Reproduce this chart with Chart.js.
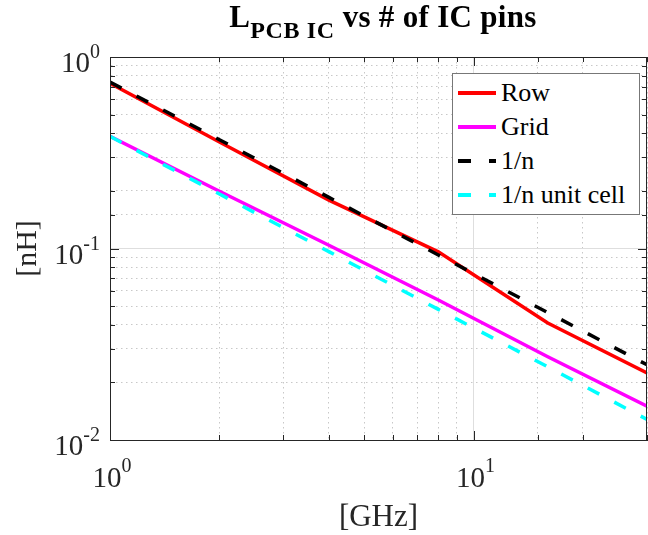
<!DOCTYPE html>
<html>
<head>
<meta charset="utf-8">
<script src="https://cdn.jsdelivr.net/npm/chart.js@4/dist/chart.umd.min.js"></script>
<style>
    body { margin: 0; background: #fff; }
    #wrap { position: relative; width: 648px; height: 535px; font-family: 'Liberation Serif', 'Times New Roman', serif; color: #000; }
    #title { position: absolute; top: -1px; left: 383px; transform: translateX(-50%); white-space: nowrap; font-weight: bold; font-size: 31px; letter-spacing: 0.3px; }
    #title sub { font-size: 24px; position: relative; top: 11px; vertical-align: baseline; margin-right: 8px; letter-spacing: 0.6px; }
    #legend { position: absolute; left: 452px; top: 73px; width: 186px; height: 138px; border: 1px solid #777; background: #fff; box-sizing: content-box; padding-top: 2px; }
    .item { display: flex; align-items: center; height: 34px; }
    .swatch { width: 38px; height: 4px; margin-left: 5px; margin-right: 5px; }
    .label { font-size: 26px; line-height: 26px; }
</style>
</head>
<body>
<div id="wrap">
    <canvas id="chart" width="648" height="535"></canvas>
    <div id="title">L<sub>PCB IC</sub>vs # of IC pins</div>
    <div id="legend"></div>
</div>
<script>
// pins (x) and inductance (nH)
const nPins = [1, 2, 4, 8, 16, 30];
const rowL = [0.73, 0.36, 0.179, 0.096, 0.0408, 0.0224];
const gridL = [0.385, 0.199, 0.104, 0.0538, 0.0272, 0.0150];
const invN = [0.74, 0.37, 0.185, 0.0925, 0.0463, 0.0247];
const invNCell = [0.385, 0.1925, 0.0963, 0.0481, 0.0241, 0.0128];

const seriesNames = ['Row', 'Grid', '1/n', '1/n unit cell'];
const seriesColors = ['#ff0000', '#ff00ff', '#000000', '#00ffff'];
const seriesDashed = [false, false, true, true];
const seriesValues = [rowL, gridL, invN, invNCell];

const xTickValues = [1, 10];
const xTickExp = ['0', '1'];
const yTickValues = [0.01, 0.1, 1];
const yTickExp = ['-2', '-1', '0'];

const SERIF = "'Liberation Serif', 'Times New Roman', serif";
const AXIS = '#262626';
const DASH = [13, 17];

function isDecade(v) {
    const l = Math.log10(v);
    return Math.abs(l - Math.round(l)) < 1e-9;
}

// legend (html, top-right inside the axes)
const legendEl = document.getElementById('legend');
seriesNames.forEach((name, i) => {
    const c = seriesColors[i];
    const bg = seriesDashed[i]
        ? `repeating-linear-gradient(to right, ${c} 0 13px, transparent 13px 31px)`
        : c;
    legendEl.insertAdjacentHTML('beforeend',
        `<div class="item"><div class="swatch" style="background:${bg}"></div><span class="label">${name}</span></div>`);
});

// box, inward ticks and 10^k labels, MATLAB style
const axesDecor = {
    id: 'axesDecor',
    afterDraw(chart) {
        const { ctx, chartArea: a, scales: { x, y } } = chart;
        ctx.save();
        ctx.strokeStyle = AXIS;
        ctx.lineWidth = 1;
        ctx.strokeRect(Math.round(a.left) + 0.5, Math.round(a.top) + 0.5,
            Math.round(a.right - a.left) - 1, Math.round(a.bottom - a.top));

        ctx.beginPath();
        x.ticks.forEach(t => {
            const px = Math.round(x.getPixelForValue(t.value)) + 0.5;
            const len = isDecade(t.value) ? 9 : 5;
            ctx.moveTo(px, a.bottom); ctx.lineTo(px, a.bottom - len);
            ctx.moveTo(px, a.top); ctx.lineTo(px, a.top + len);
        });
        y.ticks.forEach(t => {
            const py = Math.round(y.getPixelForValue(t.value)) + 0.5;
            const len = isDecade(t.value) ? 9 : 5;
            ctx.moveTo(a.left, py); ctx.lineTo(a.left + len, py);
            ctx.moveTo(a.right, py); ctx.lineTo(a.right - len, py);
        });
        ctx.stroke();

        ctx.fillStyle = AXIS;
        ctx.textBaseline = 'alphabetic';
        ctx.textAlign = 'left';
        const big = `29px ${SERIF}`;
        const small = `20px ${SERIF}`;

        yTickValues.forEach((v, i) => {
            const py = y.getPixelForValue(v);
            ctx.font = big; const w1 = ctx.measureText('10').width;
            ctx.font = small; const w2 = ctx.measureText(yTickExp[i]).width;
            const x0 = 100 - w1 - w2;
            ctx.font = big; ctx.fillText('10', x0, py + 15);
            ctx.font = small; ctx.fillText(yTickExp[i], x0 + w1, py + 1);
        });
        xTickValues.forEach((v, i) => {
            const px = x.getPixelForValue(v);
            ctx.font = big; const w1 = ctx.measureText('10').width;
            ctx.font = small; const w2 = ctx.measureText(xTickExp[i]).width;
            const x0 = px - (w1 + w2) / 2 + 2;
            ctx.font = big; ctx.fillText('10', x0, a.bottom + 47);
            ctx.font = small; ctx.fillText(xTickExp[i], x0 + w1, a.bottom + 32);
        });
        ctx.restore();
    }
};

const gridStyle = {
    color: ctx => (ctx.tick && isDecade(ctx.tick.value)) ? '#dedede' : '#c8c8c8',
    lineWidth: 1,
    drawTicks: false,
};
const borderStyle = {
    display: true,
    color: AXIS,
    dash: ctx => (ctx.tick && !isDecade(ctx.tick.value)) ? [1.5, 3.5] : [],
};

new Chart(document.getElementById('chart'), {
    type: 'line',
    data: {
        datasets: seriesNames.map((name, i) => ({
            label: name,
            data: nPins.map((n, j) => ({ x: n, y: seriesValues[i][j] })),
            borderColor: seriesColors[i],
            backgroundColor: seriesColors[i],
            borderWidth: 3.5,
            borderDash: seriesDashed[i] ? DASH : [],
            pointRadius: 0,
            tension: 0,
            fill: false,
            order: 4 - i,
        })),
    },
    plugins: [axesDecor],
    options: {
        responsive: false,
        animation: false,
        devicePixelRatio: 1,
        layout: { padding: { top: 57, right: 1, left: 0, bottom: 0 } },
        plugins: { legend: { display: false }, tooltip: { enabled: false } },
        scales: {
            x: {
                type: 'logarithmic',
                min: 1, max: 30,
                afterFit: s => { s.height = 95; },
                ticks: { display: false, autoSkip: false },
                grid: gridStyle,
                border: borderStyle,
                title: {
                    display: true, text: '[GHz]', color: AXIS,
                    font: { family: SERIF, size: 31, lineHeight: 1 },
                    padding: { top: 0, bottom: 2 },
                },
            },
            y: {
                type: 'logarithmic',
                min: 0.01, max: 1,
                afterFit: s => { s.width = 110; },
                ticks: { display: false, autoSkip: false },
                grid: gridStyle,
                border: borderStyle,
                title: {
                    display: true, text: '[nH]', color: AXIS,
                    font: { family: SERIF, size: 30, lineHeight: 1 },
                    padding: { top: 13, bottom: 0 },
                },
            },
        },
    },
});
</script>
</body>
</html>
